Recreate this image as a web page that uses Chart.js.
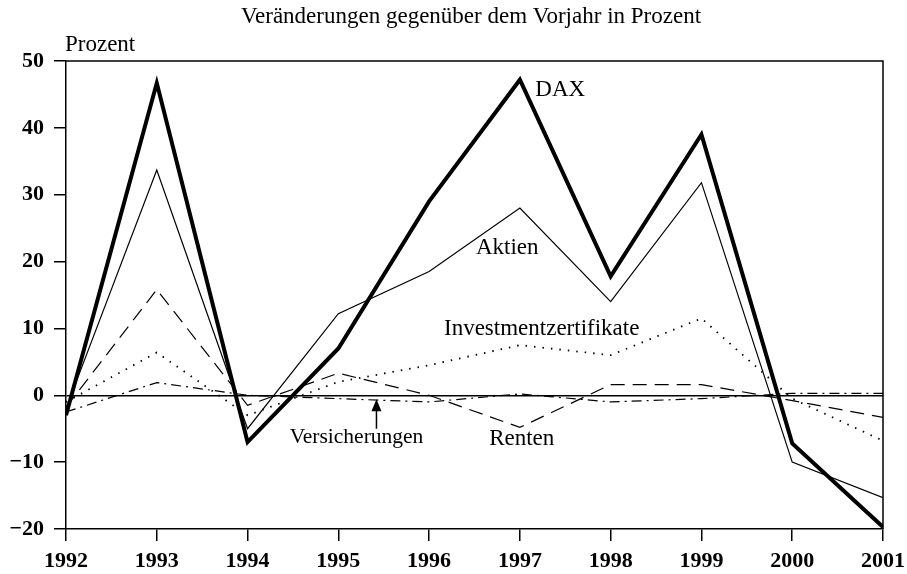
<!DOCTYPE html>
<html><head><meta charset="utf-8">
<script src="https://cdn.jsdelivr.net/npm/chart.js@4.4.1/dist/chart.umd.min.js"></script>
<style>html,body{margin:0;padding:0;background:#fff}#wrap{width:907px;height:574px}</style>
</head><body><div id="wrap"><canvas id="c" width="907" height="574"></canvas></div>
<script>
const years = [1992,1993,1994,1995,1996,1997,1998,1999,2000,2001];
const dax = [-3, 46.7, -7, 7, 29, 47.2, 17.8, 39, -7.2, -19.7];
const aktien = [-2, 33.7, -5, 12.2, 18.5, 28, 14, 31.8, -10, -15.3];
const renten = [-1.8, 15.8, -1.5, 3.3, 0, -4.8, 1.6, 1.6, -0.8, -3.3];
const invest = [-1, 6.4, -3, 2, 4.5, 7.5, 6, 11.5, -0.5, -6.8];
const versich = [-2.5, 1.9, 0, -0.5, -1, 0.2, -1, -0.5, 0.3, 0.3];
const yTicks = [-20,-10,0,10,20,30,40,50];
const titleText = 'Veränderungen gegenüber dem Vorjahr in Prozent';
const unitText = 'Prozent';
const labels = [
  {t:'DAX', x:1997.17, y:45.7, align:'left', size:23},
  {t:'Aktien', x:1996.86, y:22, align:'center', size:23},
  {t:'Investmentzertifikate', x:1997.24, y:9.9, align:'center', size:23},
  {t:'Versicherungen', x:1995.2, y:-6.3, align:'center', size:21.5},
  {t:'Renten', x:1997.02, y:-6.5, align:'center', size:23}
];
const arrow = {x:1995.42, from:-5, to:-0.6};

const FONT = '"Liberation Serif", "DejaVu Serif", serif';
const pts = arr => arr.map((v,i)=>({x:years[i], y:v}));
function ds(label, data, w, dash){
  return {label, data:pts(data), borderColor:'#000', backgroundColor:'#000', borderWidth:w,
    borderDash:dash, pointRadius:0, tension:0, fill:false};
}
const deco = {
  id:'deco',
  afterDraw(chart){
    const ctx = chart.ctx, a = chart.chartArea, xs = chart.scales.x, ys = chart.scales.y;
    ctx.save();
    ctx.strokeStyle = '#000'; ctx.lineWidth = 1.5;
    ctx.beginPath();
    ctx.moveTo(a.left, a.top); ctx.lineTo(a.right, a.top); ctx.lineTo(a.right, a.bottom);
    ctx.stroke();
    ctx.fillStyle = '#000';
    ctx.font = '23px ' + FONT;
    ctx.textAlign = 'center'; ctx.textBaseline = 'alphabetic';
    ctx.fillText(titleText, 471, 23);
    ctx.textAlign = 'left';
    ctx.fillText(unitText, 65, 51);
    ctx.textBaseline = 'middle';
    labels.forEach(l=>{
      ctx.font = l.size + 'px ' + FONT;
      ctx.textAlign = l.align;
      ctx.fillText(l.t, xs.getPixelForValue(l.x), ys.getPixelForValue(l.y));
    });
    const ax = xs.getPixelForValue(arrow.x), y1 = ys.getPixelForValue(arrow.from), y2 = ys.getPixelForValue(arrow.to);
    ctx.lineWidth = 1.5;
    ctx.beginPath(); ctx.moveTo(ax, y1); ctx.lineTo(ax, y2 + 4); ctx.stroke();
    ctx.beginPath(); ctx.moveTo(ax, y2); ctx.lineTo(ax-5, y2+12); ctx.lineTo(ax+5, y2+12); ctx.closePath(); ctx.fill();
    ctx.restore();
  }
};
new Chart(document.getElementById('c'), {
  type:'line',
  data:{datasets:[
    ds('DAX', dax, 4, []),
    ds('Aktien', aktien, 1.2, []),
    ds('Renten', renten, 1.2, [14,8]),
    ds('Investmentzertifikate', invest, 1.8, [1.5,7]),
    ds('Versicherungen', versich, 1.2, [10,5,2,5])
  ]},
  options:{
    responsive:false, animation:false,
    layout:{padding:{top:61, right:24, left:0, bottom:0}},
    plugins:{legend:{display:false}, tooltip:{enabled:false}, title:{display:false}},
    scales:{
      x:{type:'linear', min:1992, max:2001,
        afterFit(s){ s.height = 45; s.paddingLeft = 0; s.paddingRight = 0; },
        afterBuildTicks(s){ s.ticks = years.map(v=>({value:v})); },
        ticks:{color:'#000', font:{family:FONT, size:22, weight:'bold'}, padding:7, maxRotation:0,
          callback:v=>String(v)},
        grid:{display:true, drawOnChartArea:false, drawTicks:true, tickLength:12, tickColor:'#000', lineWidth:1.5},
        border:{display:true, color:'#000', width:1.5}
      },
      y:{min:-20, max:50,
        afterFit(s){ s.width = 66; s.paddingTop = 0; s.paddingBottom = 0; },
        afterBuildTicks(s){ s.ticks = yTicks.map(v=>({value:v})); },
        ticks:{color:'#000', font:{family:FONT, size:22, weight:'bold'}, padding:10,
          callback:v=>String(v).replace('-','\u2212')},
        grid:{display:true, drawTicks:true, tickLength:12, tickColor:'#000',
          color:c=> c.tick && c.tick.value===0 ? '#000' : 'rgba(0,0,0,0)', lineWidth:1.5},
        border:{display:true, color:'#000', width:1.5}
      }
    }
  },
  plugins:[deco]
});
</script></body></html>
